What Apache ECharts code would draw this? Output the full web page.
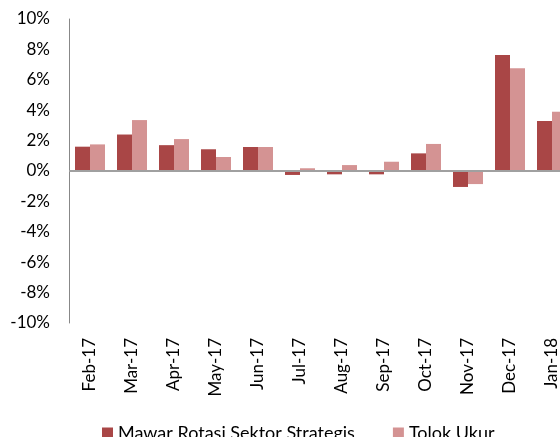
<!DOCTYPE html>
<html>
<head>
<meta charset="utf-8">
<script src="https://cdn.jsdelivr.net/npm/echarts@6/dist/echarts.min.js"></script>
<style>
  html, body { margin: 0; padding: 0; background: #fff; }
  #chart { width: 560px; height: 437px; }
</style>
</head>
<body>
<div id="chart"></div>
<script>
var months = ['Feb-17', 'Mar-17', 'Apr-17', 'May-17', 'Jun-17', 'Jul-17', 'Aug-17', 'Sep-17', 'Oct-17', 'Nov-17', 'Dec-17', 'Jan-18'];
var mawar = [1.6, 2.4, 1.7, 1.43, 1.58, -0.26, -0.22, -0.22, 1.16, -1.05, 7.63, 3.29];
var tolokUkur = [1.75, 3.35, 2.1, 0.92, 1.58, 0.18, 0.39, 0.61, 1.78, -0.86, 6.76, 3.9];
var seriesNames = ['Mawar Rotasi Sektor Strategis', 'Tolok Ukur'];

var chart = echarts.init(document.getElementById('chart'), null, { renderer: 'canvas' });

var option = {
  animation: false,
  textStyle: { fontFamily: 'Lato' },
  color: ['#a94646', '#d49393'],
  legend: {
    data: seriesNames,
    left: 97,
    top: 419,
    itemWidth: 11,
    itemHeight: 11,
    itemGap: 38,
    icon: 'rect',
    textStyle: { fontSize: 18, color: '#000', fontFamily: 'Lato' }
  },
  grid: {
    left: 69,
    right: -13,
    top: 19,
    bottom: 114,
    outerBoundsMode: 'none'
  },
  xAxis: {
    type: 'category',
    data: months,
    axisLine: { show: false, onZero: false },
    axisTick: { show: false },
    axisLabel: {
      rotate: 90,
      margin: 15,
      fontSize: 17,
      color: '#000',
      interval: 0
    }
  },
  yAxis: {
    type: 'value',
    min: -10,
    max: 10,
    interval: 2,
    splitLine: { show: false },
    axisLine: { show: true, lineStyle: { color: '#888', width: 1 } },
    axisTick: { show: false },
    axisLabel: {
      margin: 19,
      fontSize: 17,
      color: '#000',
      formatter: function (v) { return v + '%'; }
    }
  },
  series: [
    {
      name: seriesNames[0],
      type: 'bar',
      data: mawar,
      barWidth: 15,
      barGap: '0%',
      markLine: {
        silent: true,
        symbol: 'none',
        label: { show: false },
        lineStyle: { color: '#a0a0a0', width: 2, type: 'solid' },
        data: [{ yAxis: 0 }]
      }
    },
    {
      name: seriesNames[1],
      type: 'bar',
      data: tolokUkur,
      barWidth: 15,
      barGap: '0%'
    }
  ]
};
chart.setOption(option);
</script>
</body>
</html>
